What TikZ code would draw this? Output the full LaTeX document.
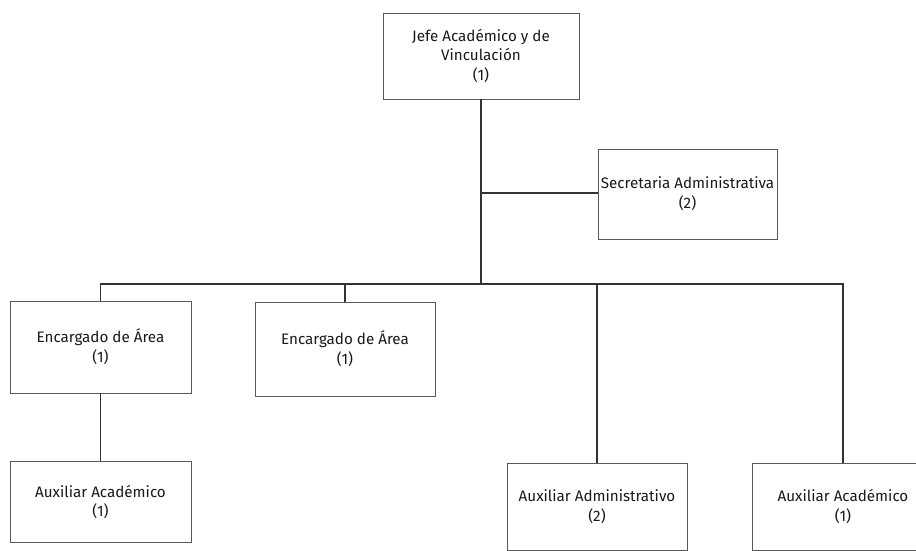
\documentclass[tikz,border=0pt]{standalone}
\usepackage{fontspec}
\setmainfont{Fira Sans}
\usepackage{tikz}

\begin{document}
\begin{tikzpicture}[x=0.025cm,y=-0.025cm,
    puesto/.style={draw=black!65,line width=0.6pt,align=center,inner sep=0pt,
        font=\fontsize{10.8}{14}\selectfont,text=black!90},
    liga/.style={draw=black!80,line width=1.4pt}]
            \useasboundingbox (0,0) rectangle (916,551);
            \clip (0,0) rectangle (916,551);

            \node[puesto,minimum width=4.9cm,minimum height=2.15cm] (jefe) at (481,56)
                {Jefe Académico y de\\Vinculación\\(1)};
            \node[puesto,minimum width=4.475cm,minimum height=2.25cm] (secre) at (687.5,194)
                {Secretaria Administrativa\\(2)};
            \node[puesto,minimum width=4.525cm,minimum height=2.3cm] (enca) at (100.5,347)
                {Encargado de Área\\(1)};
            \node[puesto,minimum width=4.5cm,minimum height=2.35cm] (encb) at (345,349)
                {Encargado de Área\\(1)};
            \node[puesto,minimum width=4.525cm,minimum height=2.025cm] (auxa) at (100.5,502)
                {Auxiliar Académico\\(1)};
            \node[puesto,minimum width=4.5cm,minimum height=2.175cm] (auxadm) at (597,506.5)
                {Auxiliar Administrativo\\(2)};
            \node[puesto,minimum width=4.55cm,minimum height=2.175cm] (auxb) at (843,506.5)
                {Auxiliar Académico\\(1)};

            \coordinate (bus) at (481,284);
            \coordinate (rama) at (481,193);

            \draw[liga] (jefe.south)--(bus);
            \draw[liga] (rama)--(secre.west|-rama);
            \draw[liga] (enca.north)--(enca.north|-bus)--(auxb.north|-bus)--(auxb.north);
            \foreach \p in {encb,auxadm}{
                \draw[liga] (\p.north|-bus)--(\p.north);
            }
            \draw[liga] (enca.south)--(auxa.north);
        \end{tikzpicture}
\end{document}
